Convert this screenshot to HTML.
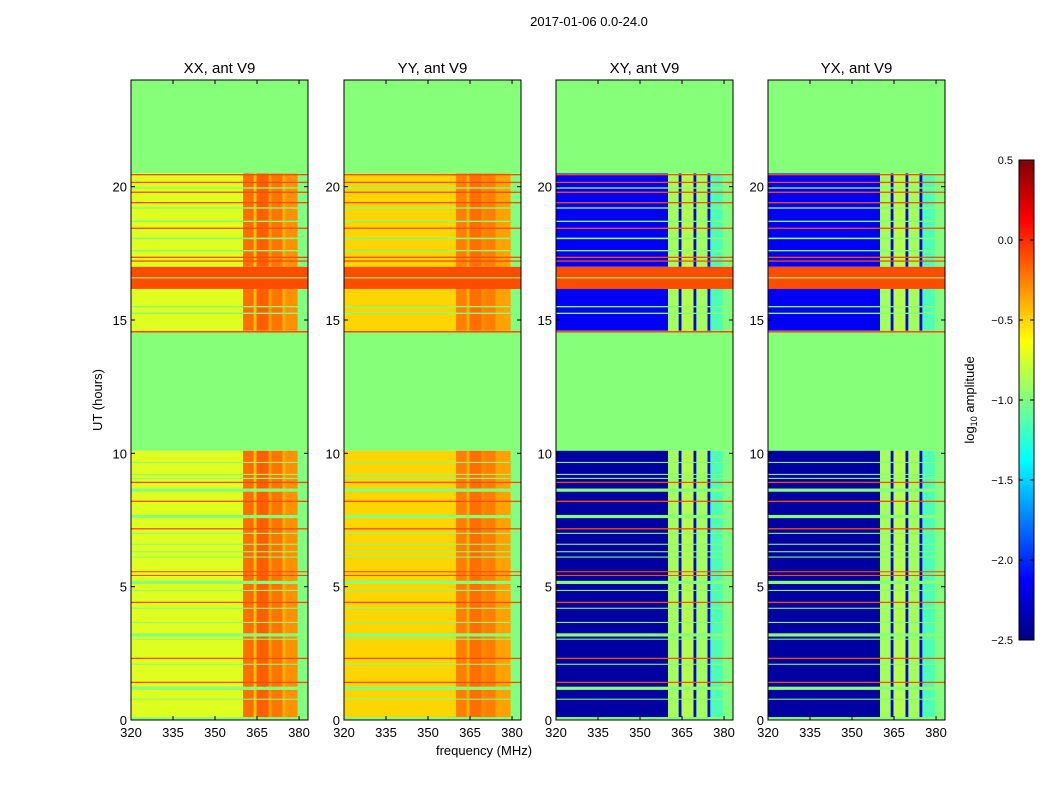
<!DOCTYPE html>
<html><head><meta charset="utf-8">
<style>
body{margin:0;background:#fff;font-family:"Liberation Sans",sans-serif;}
svg text{font-family:"Liberation Sans",sans-serif;}
</style></head>
<body>
<svg id="fig" width="1050" height="800" viewBox="0 0 1050 800" xmlns="http://www.w3.org/2000/svg">
<rect width="1050" height="800" fill="#fff"/>
<text x="589" y="26" font-size="13" text-anchor="middle">2017-01-06 0.0-24.0</text>
<text transform="translate(102,400) rotate(-90)" font-size="13" text-anchor="middle">UT (hours)</text>
<text x="484" y="755" font-size="13" text-anchor="middle">frequency (MHz)</text>
<text transform="translate(974,400) rotate(-90)" font-size="13" text-anchor="middle">log<tspan font-size="9" dy="3">10</tspan><tspan dy="-3"> amplitude</tspan></text>
<g id="panels"></g>
<g id="cbar"></g>
</svg>
<script>
// ---- data ----
const panelTitles = ["XX, ant V9","YY, ant V9","XY, ant V9","YX, ant V9"];
const freqEdges = [320,360,363.8,364.8,369.1,370.1,374.1,375.1,379.5,383.2];
const bandValsXX = [-0.72,-0.2,-0.45,-0.15,-0.35,-0.22,-0.4,-0.3,-1.0];
const bandValsYY = [-0.5,-0.25,-0.4,-0.2,-0.3,-0.25,-0.35,-0.35,-1.0];
const bandValsXY = [-2.4,-0.9,-2.2,-0.85,-2.2,-0.9,-2.2,-1.15,-1.0];
const bandValsYX = [-2.4,-0.9,-2.2,-0.85,-2.2,-0.9,-2.2,-1.15,-1.0];
const bandValsXYup = [-2.15,-0.9,-2.2,-0.85,-2.2,-0.9,-2.2,-1.15,-1.0];
// time blocks: [start, end, kind]  kind: data / flag / hot
const timeBlocks = [[0,10.1,"data"],[10.1,14.6,"flag"],[14.6,16.2,"dataup"],[16.2,17.0,"hot"],[17.0,20.5,"dataup"],[20.5,24,"flag"]];
const flagValue = -0.98;
const hotValue = -0.1;
// thin flagged rows (green) [hour, thickness in hours]
const greenLines = [[9.66,0.04],[9.21,0.04],[9.06,0.04],[8.62,0.12],[7.63,0.12],[7.0,0.04],[6.59,0.04],[6.31,0.04],[6.11,0.04],[5.16,0.12],[4.86,0.04],[4.19,0.04],[3.66,0.04],[3.19,0.12],[3.03,0.04],[2.09,0.04],[1.19,0.12],[0.78,0.04],[0.06,0.1],[19.95,0.05],[19.2,0.05],[18.7,0.05],[18.06,0.06],[17.6,0.05],[15.5,0.05],[15.25,0.05],[16.58,0.04]];
const orangeLines = [[8.91,0.05],[8.2,0.05],[7.17,0.05],[5.56,0.04],[5.42,0.04],[4.41,0.05],[2.31,0.05],[1.41,0.05],[20.45,0.05],[20.16,0.05],[19.79,0.05],[19.4,0.05],[18.44,0.05],[17.35,0.05],[17.21,0.05],[16.19,0.05],[14.56,0.06]];
const xTicks = [320,335,350,365,380];
const yTicks = [0,5,10,15,20];
const cbarTicks = [0.5,0.0,-0.5,-1.0,-1.5,-2.0,-2.5];

// ---- helpers ----
const NS="http://www.w3.org/2000/svg";
const vmin=-2.5,vmax=0.5;
function jet(v){
  let t=(v-vmin)/(vmax-vmin); t=Math.max(0,Math.min(1,t));
  const f=x=>Math.round(255*Math.max(0,Math.min(1,x)));
  const r=f(1.5-Math.abs(4*t-3)), g=f(1.5-Math.abs(4*t-2)), b=f(1.5-Math.abs(4*t-1));
  return `rgb(${r},${g},${b})`;
}
function mk(tag,attrs,parent){const e=document.createElementNS(NS,tag);for(const k in attrs)e.setAttribute(k,attrs[k]);parent.appendChild(e);return e;}
const panelX=[131,344,556,768], PW=177, PT=80, PB=720;
const fmin=320,fmax=383.2;
const yS=h=>PB-(h/24)*(PB-PT);
const allVals=[bandValsXX,bandValsYY,bandValsXY,bandValsYX];
const root=document.getElementById('panels');

panelX.forEach((px,pi)=>{
  const xS=f=>px+(f-fmin)/(fmax-fmin)*PW;
  const g=mk('g',{},root);
  
  
  timeBlocks.forEach(b=>{
    const y1=yS(b[1]), y0=yS(b[0]);
    if(b[2]==="flag"||b[2]==="hot"){
      const r=mk('rect',{x:px,y:y1,width:PW,height:y0-y1,fill:jet(b[2]==="flag"?flagValue:hotValue)},g);
      
      
    } else {
      const vals=(b[2]==="dataup"&&pi>=2)?bandValsXYup:allVals[pi];
      for(let i=0;i<vals.length;i++){
        const r=mk('rect',{x:xS(freqEdges[i]),y:y1,width:xS(freqEdges[i+1])-xS(freqEdges[i])+0.3,height:y0-y1,fill:jet(vals[i])},g);
        
        
      }
    }
  });
  greenLines.forEach(l=>{
    const h=Math.max(1,(l[1]/24)*(PB-PT));
    const r=mk('rect',{x:px,y:yS(l[0])-h/2,width:PW,height:h,fill:jet(flagValue)},g);
    
    
  });
  orangeLines.forEach(l=>{
    const h=Math.max(1,(l[1]/24)*(PB-PT));
    const r=mk('rect',{x:px,y:yS(l[0])-h/2,width:PW,height:h,fill:jet(hotValue)},g);
    
    
  });
  const fr=mk('rect',{x:px,y:PT,width:PW,height:PB-PT,fill:'none',stroke:'#000','stroke-width':1},g);
  
  
  const t=mk('text',{x:px+PW/2,y:PT-7,'font-size':15,'text-anchor':'middle'},g);
  t.textContent=panelTitles[pi];
  
  
  xTicks.forEach(f=>{
    const x=xS(f);
    mk('line',{x1:x,x2:x,y1:PB,y2:PB-4,stroke:'#000'},g);
    mk('line',{x1:x,x2:x,y1:PT,y2:PT+4,stroke:'#000'},g);
    const tx=mk('text',{x:x,y:PB+17,'font-size':13,'text-anchor':'middle'},g);
    tx.textContent=f;
    
    
  });
  yTicks.forEach(h=>{
    const y=yS(h);
    mk('line',{x1:px,x2:px+4,y1:y,y2:y,stroke:'#000'},g);
    mk('line',{x1:px+PW,x2:px+PW-4,y1:y,y2:y,stroke:'#000'},g);
    const ty=mk('text',{x:px-4,y:y+5,'font-size':13,'text-anchor':'end'},g);
    ty.textContent=h;
    
    
  });
});

// colorbar
const cb=document.getElementById('cbar');


const CX=1019,CW=15,CT=160,CB=640;
for(let y=CT;y<CB;y++){
  const v=vmax-(y-CT+0.5)/(CB-CT)*(vmax-vmin);
  mk('rect',{x:CX,y:y,width:CW,height:1.2,fill:jet(v)},cb);
}
mk('rect',{x:CX,y:CT,width:CW,height:CB-CT,fill:'none',stroke:'#000'},cb);
cbarTicks.forEach(v=>{
  const y=CT+(vmax-v)/(vmax-vmin)*(CB-CT);
  mk('line',{x1:CX,x2:CX+4,y1:y,y2:y,stroke:'#000'},cb);
  mk('line',{x1:CX+CW,x2:CX+CW-4,y1:y,y2:y,stroke:'#000'},cb);
  const t=mk('text',{x:CX-6,y:y+4,'font-size':11,'text-anchor':'end'},cb);
  t.textContent=(v<0?'\u2212':'')+Math.abs(v).toFixed(1);
  
  
});
</script>
</body></html>
